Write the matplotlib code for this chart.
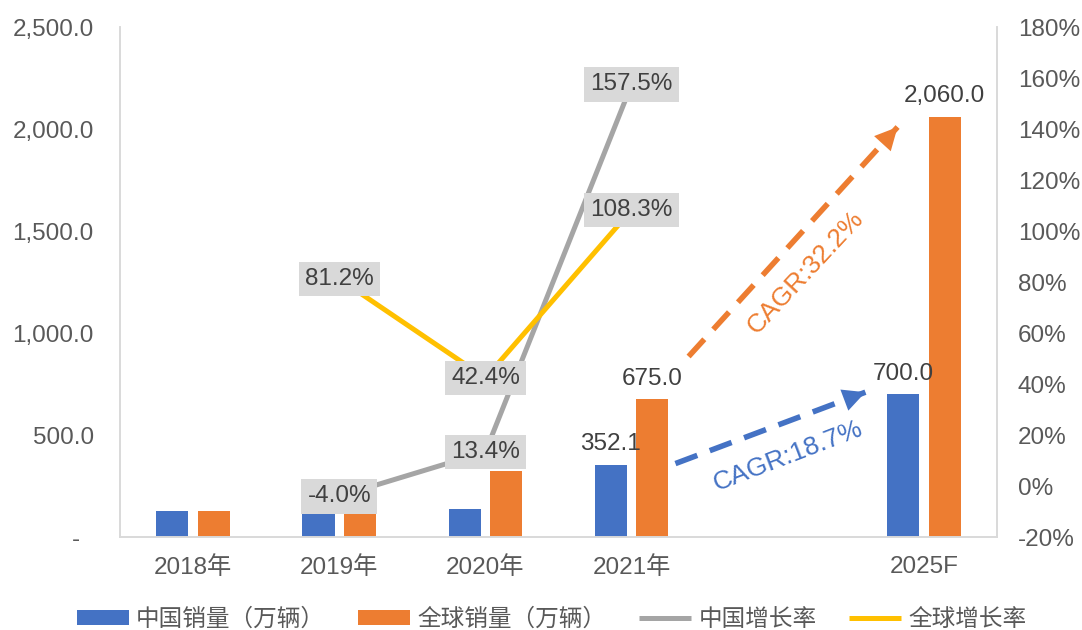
import numpy as np
import matplotlib
matplotlib.use("Agg")
import matplotlib.pyplot as plt
from matplotlib.ticker import FuncFormatter

plt.rcParams['font.family'] = ['Liberation Sans', 'Noto Sans CJK SC']

# data
categories = ['2018年', '2019年', '2020年', '2021年', '', '2025F']
bar_pos = [0, 1, 2, 3, 5]
china_sales = [127, 120, 136, 352.1, 700.0]
global_sales = [127, 120, 323, 675.0, 2060.0]
growth_pos = [1, 2, 3]
china_growth = [-4.0, 13.4, 157.5]
global_growth = [81.2, 42.4, 108.3]
cagr_china = 18.7
cagr_global = 32.2

BLUE = '#4472C4'
ORANGE = '#ED7D31'
GREY = '#A5A5A5'
YELLOW = '#FFC000'
AXIS = '#D9D9D9'
TICK = '#595959'
LABEL = '#404040'

fig = plt.figure(figsize=(10.82, 6.30), dpi=100)
ax = fig.add_axes([0.111, 0.1476, 0.8104, 0.8094])
ax2 = ax.twinx()

w = 0.22
off = 0.142
xb = np.array(bar_pos)
b1 = ax.bar(xb - off, china_sales, w, color=BLUE, label='中国销量（万辆）', zorder=2)
b2 = ax.bar(xb + off, global_sales, w, color=ORANGE, label='全球销量（万辆）', zorder=2)

# value labels only for 2021 and 2025F
for i in (3, 4):
    ax.annotate('{:,.1f}'.format(china_sales[i]), (xb[i] - off, china_sales[i]),
                xytext=(0, 7), textcoords='offset points', ha='center', va='bottom',
                fontsize=17.5, color=LABEL)
    ax.annotate('{:,.1f}'.format(global_sales[i]), (xb[i] + off, global_sales[i]),
                xytext=(0, 7), textcoords='offset points', ha='center', va='bottom',
                fontsize=17.5, color=LABEL)

ax.set_xlim(-0.5, 5.5)
ax.set_ylim(0, 2500)
ax.set_yticks(np.arange(0, 2501, 500))
ax.yaxis.set_major_formatter(FuncFormatter(lambda v, p: '-  ' if v == 0 else '{:,.1f}'.format(v)))
ax.set_xticks(range(len(categories)))
ax.set_xticklabels(categories)

l1, = ax2.plot(growth_pos, china_growth, color=GREY, lw=3.6, label='中国增长率', zorder=3,
               solid_capstyle='butt')
l2, = ax2.plot(growth_pos, global_growth, color=YELLOW, lw=3.6, label='全球增长率', zorder=3,
               solid_capstyle='butt')
box = dict(boxstyle='square,pad=0.26', fc=AXIS, ec='none')
for x, v in zip(growth_pos, china_growth):
    ax2.text(x, v, '{:.1f}%'.format(v), ha='center', va='center', fontsize=17.5,
             color=LABEL, bbox=box, zorder=5)
for x, v in zip(growth_pos, global_growth):
    ax2.text(x, v, '{:.1f}%'.format(v), ha='center', va='center', fontsize=17.5,
             color=LABEL, bbox=box, zorder=5)
ax2.set_ylim(-20, 180)
ax2.set_yticks(np.arange(-20, 181, 20))
ax2.yaxis.set_major_formatter(FuncFormatter(lambda v, p: '{:.0f}%'.format(v)))

for a in (ax, ax2):
    a.spines['top'].set_visible(False)
    for s in ('left', 'right', 'bottom'):
        a.spines[s].set_color(AXIS)
        a.spines[s].set_linewidth(1.2)
    a.tick_params(length=0, labelsize=17.5, colors=TICK)
ax.tick_params(axis='y', pad=19)
ax.tick_params(axis='x', pad=14)
ax2.tick_params(axis='y', pad=15)


def dashed_arrow(a, start, end, color):
    a.plot([start[0], end[0]], [start[1], end[1]], color=color, lw=4,
           dashes=(4.2, 2.4), zorder=4, solid_capstyle='butt', dash_capstyle='butt')
    back = (end[0] - (end[0] - start[0]) * 0.04, end[1] - (end[1] - start[1]) * 0.04)
    a.annotate('', xy=end, xytext=back,
               arrowprops=dict(arrowstyle='-|>,head_length=0.9,head_width=0.45',
                               color=color, lw=0, mutation_scale=18, shrinkA=0, shrinkB=0),
               zorder=4)


# CAGR arrows from the 2021 bars towards the 2025F bars
dashed_arrow(ax, (3.3, china_sales[3] + 8), (4.6, china_sales[4] + 10), BLUE)
dashed_arrow(ax, (3.39, global_sales[3] + 210), (4.82, global_sales[4] - 50), ORANGE)
ax.text(4.07, 396, 'CAGR:{:.1f}%'.format(cagr_china), color=BLUE, fontsize=19,
        rotation=21, ha='center', va='center', rotation_mode='anchor')
ax.text(4.19, 1296, 'CAGR:{:.1f}%'.format(cagr_global), color=ORANGE, fontsize=19,
        rotation=47, ha='center', va='center', rotation_mode='anchor')

handles = [b1, b2, l1, l2]
fig.legend(handles, [h.get_label() for h in handles], loc='center', ncol=4,
           bbox_to_anchor=(0.51, 0.016), frameon=False, fontsize=17,
           handlelength=2.2, handleheight=0.6, handletextpad=0.3, columnspacing=1.4,
           labelcolor=TICK)

fig.savefig('out.png', dpi=100)
